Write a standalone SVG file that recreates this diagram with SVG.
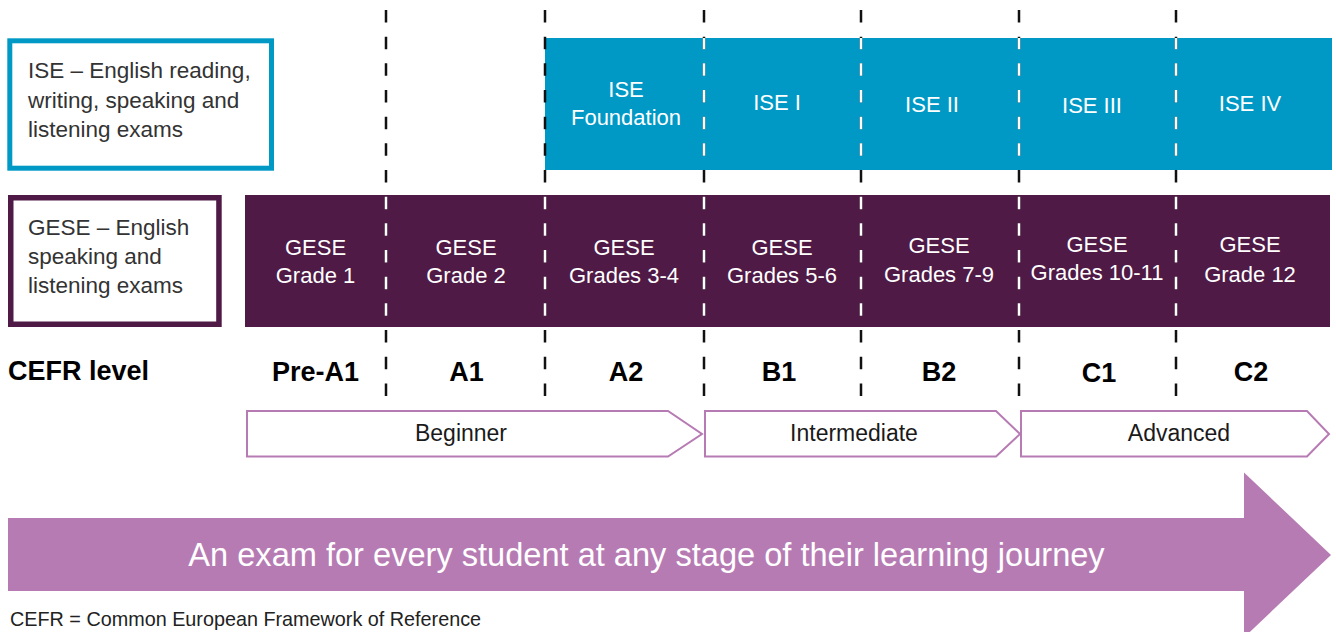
<svg xmlns="http://www.w3.org/2000/svg" width="1336" height="632" viewBox="0 0 1336 632">
  <defs>
    <style>
      .sans { font-family: "Liberation Sans", Arial, sans-serif; }
      .legend { font-family: "Liberation Sans", Arial, sans-serif; font-size: 22.5px; fill: #333333; }
      .cell { font-family: "Liberation Sans", Arial, sans-serif; font-size: 22px; fill: #ffffff; text-anchor: middle; }
      .level { font-family: "Liberation Sans", Arial, sans-serif; font-size: 27px; font-weight: bold; fill: #000000; }
      .stage { font-family: "Liberation Sans", Arial, sans-serif; font-size: 23px; fill: #1a1a1a; text-anchor: middle; }
      .chev { fill: #ffffff; stroke: #B77BB4; stroke-width: 2; }
      .ise { fill: #0099C6; }
      .gese { fill: #4F1A46; }
      .div { stroke-width: 2.5; stroke-dasharray: 12.5 14.17; fill: none; }
    </style>
    <clipPath id="colour-areas">
      <rect x="245" y="195" width="1085" height="132"/>
      <rect x="547" y="38" width="785" height="132"/>
    </clipPath>
  </defs>

  <rect x="0" y="0" width="1336" height="632" fill="#ffffff"/>

  <!-- Legend boxes -->
  <g id="ise-legend">
    <rect x="9.8" y="40.8" width="261.7" height="127.4" fill="#ffffff" stroke="#0099C6" stroke-width="5"/>
    <text class="legend" x="28" y="78.3">ISE – English reading,</text>
    <text class="legend" x="28" y="107.5">writing, speaking and</text>
    <text class="legend" x="28" y="136.7">listening exams</text>
  </g>
  <g id="gese-legend">
    <rect x="10.75" y="197.75" width="208.2" height="126.5" fill="#ffffff" stroke="#4F1A46" stroke-width="5.5"/>
    <text class="legend" x="28" y="235">GESE – English</text>
    <text class="legend" x="28" y="264">speaking and</text>
    <text class="legend" x="28" y="293">listening exams</text>
  </g>

  <!-- ISE band -->
  <g id="ise-foundation">
    <rect class="ise" x="545" y="38" width="159" height="132"/>
    <text class="cell" x="626" y="96.7">ISE</text>
    <text class="cell" x="626" y="125">Foundation</text>
  </g>
  <g id="ise-1">
    <rect class="ise" x="704" y="38" width="157" height="132"/>
    <text class="cell" x="777" y="110">ISE I</text>
  </g>
  <g id="ise-2">
    <rect class="ise" x="861" y="38" width="158" height="132"/>
    <text class="cell" x="932" y="111.5">ISE II</text>
  </g>
  <g id="ise-3">
    <rect class="ise" x="1019" y="38" width="157" height="132"/>
    <text class="cell" x="1092" y="112.5">ISE III</text>
  </g>
  <g id="ise-4">
    <rect class="ise" x="1176" y="38" width="156" height="132"/>
    <text class="cell" x="1250" y="110.5">ISE IV</text>
  </g>

  <!-- GESE band -->
  <g id="gese-grade-1">
    <rect class="gese" x="245" y="195" width="141" height="132"/>
    <text class="cell" x="315.5" y="255">GESE</text>
    <text class="cell" x="315.5" y="283.3">Grade 1</text>
  </g>
  <g id="gese-grade-2">
    <rect class="gese" x="386" y="195" width="159" height="132"/>
    <text class="cell" x="466" y="255">GESE</text>
    <text class="cell" x="466" y="283.3">Grade 2</text>
  </g>
  <g id="gese-grades-3-4">
    <rect class="gese" x="545" y="195" width="159" height="132"/>
    <text class="cell" x="624" y="255">GESE</text>
    <text class="cell" x="624" y="283.3">Grades 3-4</text>
  </g>
  <g id="gese-grades-5-6">
    <rect class="gese" x="704" y="195" width="157" height="132"/>
    <text class="cell" x="782" y="255">GESE</text>
    <text class="cell" x="782" y="283.3">Grades 5-6</text>
  </g>
  <g id="gese-grades-7-9">
    <rect class="gese" x="861" y="195" width="158" height="132"/>
    <text class="cell" x="939" y="253">GESE</text>
    <text class="cell" x="939" y="281.7">Grades 7-9</text>
  </g>
  <g id="gese-grades-10-11">
    <rect class="gese" x="1019" y="195" width="157" height="132"/>
    <text class="cell" x="1097" y="251.7">GESE</text>
    <text class="cell" x="1097" y="280">Grades 10-11</text>
  </g>
  <g id="gese-grade-12">
    <rect class="gese" x="1176" y="195" width="154" height="132"/>
    <text class="cell" x="1250" y="252.3">GESE</text>
    <text class="cell" x="1250" y="281.7">Grade 12</text>
  </g>

  <!-- Dividers -->
  <g id="connectors">
    <g stroke="#111111" class="div">
      <line class="div" x1="386" y1="10" x2="386" y2="396"/>
      <line class="div" x1="545" y1="10" x2="545" y2="396"/>
      <line class="div" x1="704" y1="10" x2="704" y2="396"/>
      <line class="div" x1="861" y1="10" x2="861" y2="396"/>
      <line class="div" x1="1019" y1="10" x2="1019" y2="396"/>
      <line class="div" x1="1176" y1="10" x2="1176" y2="396"/>
    </g>
    <g stroke="#ffffff" class="div" clip-path="url(#colour-areas)">
      <line class="div" x1="386" y1="10" x2="386" y2="396"/>
      <line class="div" x1="545" y1="10" x2="545" y2="396"/>
      <line class="div" x1="704" y1="10" x2="704" y2="396"/>
      <line class="div" x1="861" y1="10" x2="861" y2="396"/>
      <line class="div" x1="1019" y1="10" x2="1019" y2="396"/>
      <line class="div" x1="1176" y1="10" x2="1176" y2="396"/>
    </g>
  </g>

  <!-- CEFR levels -->
  <g id="cefr-levels">
    <text class="level" x="8" y="380">CEFR level</text>
    <text class="level" x="315.5" y="380.5" text-anchor="middle">Pre-A1</text>
    <text class="level" x="466.5" y="380.5" text-anchor="middle">A1</text>
    <text class="level" x="626" y="380.5" text-anchor="middle">A2</text>
    <text class="level" x="779" y="380.5" text-anchor="middle">B1</text>
    <text class="level" x="939" y="380.5" text-anchor="middle">B2</text>
    <text class="level" x="1099" y="382" text-anchor="middle">C1</text>
    <text class="level" x="1251" y="380.5" text-anchor="middle">C2</text>
  </g>

  <!-- Stages -->
  <g id="stage-beginner">
    <polygon class="chev" points="247,411 668,411 702,434 668,456.5 247,456.5"/>
    <text class="stage" x="461" y="441">Beginner</text>
  </g>
  <g id="stage-intermediate">
    <polygon class="chev" points="705,411 996,411 1020,434 996,456.5 705,456.5"/>
    <text class="stage" x="854" y="441">Intermediate</text>
  </g>
  <g id="stage-advanced">
    <polygon class="chev" points="1021,411 1307,411 1329,434 1307,456.5 1021,456.5"/>
    <text class="stage" x="1179" y="441">Advanced</text>
  </g>

  <!-- Journey arrow -->
  <g id="journey-arrow">
    <polygon points="8,518 1244,518 1244,472.5 1331,555 1244,637.5 1244,591 8,591" fill="#B77BB4"/>
    <text class="sans" x="646.5" y="566" font-size="32.6" fill="#ffffff" text-anchor="middle">An exam for every student at any stage of their learning journey</text>
  </g>

  <!-- Footnote -->
  <g id="footnote">
    <text class="sans" x="10" y="626" font-size="19.8" fill="#222222">CEFR = Common European Framework of Reference</text>
  </g>
</svg>
